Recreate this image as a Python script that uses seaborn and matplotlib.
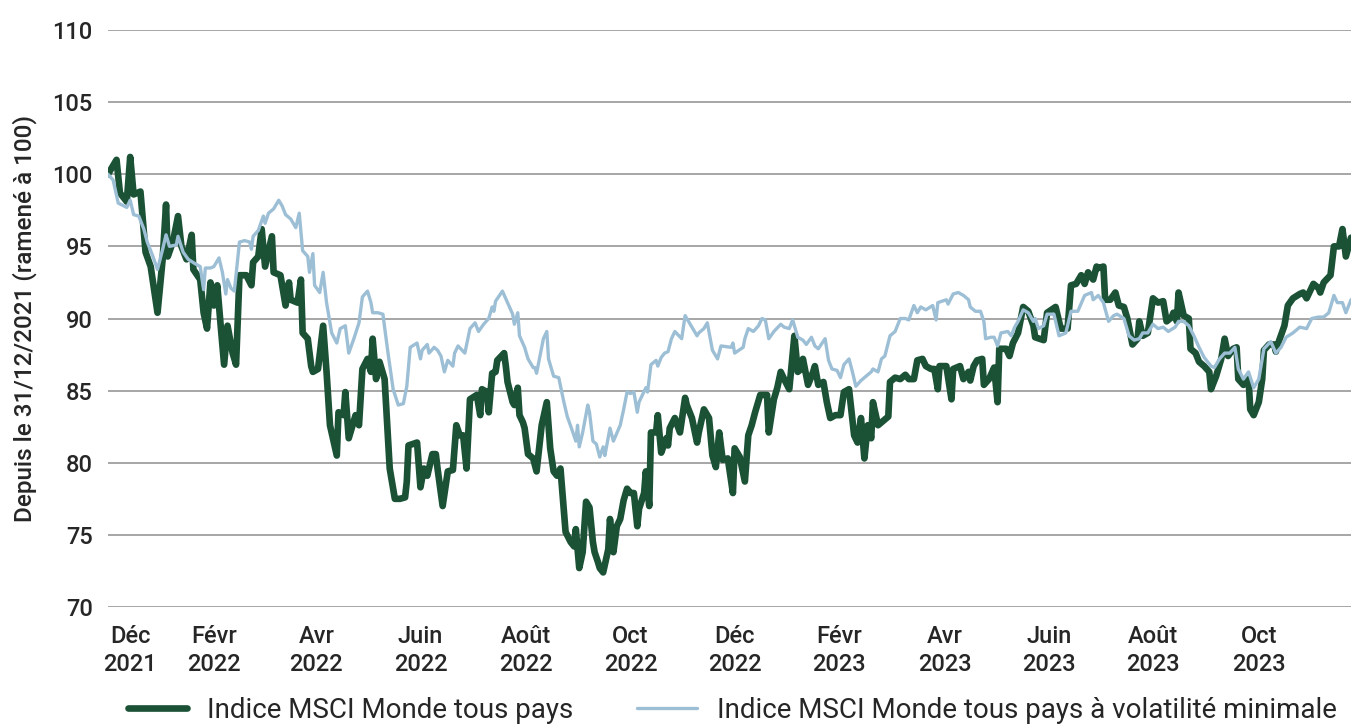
import pandas as pd
import numpy as np
import matplotlib
matplotlib.use('Agg')
import matplotlib.pyplot as plt
import seaborn as sns

# jours depuis le 31/12/2021 et valeurs (base 100)
jours_acwi = [0, 5, 7, 11, 13, 15, 19, 22, 25, 29,
              32, 34, 35, 38, 41, 43, 46, 49, 50, 54,
              56, 58, 60, 62, 64, 66, 68, 70, 73, 75,
              77, 81, 84, 85, 88, 90, 92, 96, 97, 101,
              104, 106, 107, 111, 113, 114, 117, 119, 120, 123,
              126, 128, 130, 134, 135, 138, 139, 141, 145, 147,
              149, 152, 154, 155, 157, 159, 162, 165, 168, 171,
              174, 175, 176, 181, 183, 185, 187, 190, 192, 193,
              196, 199, 202, 204, 206, 208, 210, 212, 216, 218,
              219, 222, 223, 225, 227, 228, 232, 233, 234, 237,
              238, 240, 241, 243, 244, 246, 249, 251, 254, 257,
              259, 261, 263, 265, 268, 271, 273, 274, 276, 278,
              280, 282, 284, 285, 287, 288, 290, 293, 294, 296,
              298, 300, 302, 304, 306, 308, 310, 311, 314, 315,
              317, 318, 321, 322, 324, 327, 328, 329, 332, 335,
              338, 339, 342, 345, 346, 349, 352, 354, 356, 358,
              360, 363, 366, 367, 370, 373, 375, 377, 379, 382,
              386, 387, 390, 392, 394, 396, 399, 400, 402, 404,
              406, 407, 410, 413, 414, 416, 419, 421, 423, 426,
              429, 431, 434, 437, 439, 441, 443, 445, 447, 448,
              451, 454, 457, 458, 461, 464, 467, 469, 472, 474,
              477, 479, 482, 484, 486, 487, 491, 494, 495, 499,
              501, 504, 505, 507, 509, 512, 513, 516, 519, 521,
              522, 526, 528, 530, 533, 536, 539, 542, 543, 548,
              550, 555, 558, 562, 564, 567, 570, 572, 574, 577,
              579, 580, 583, 584, 587, 590, 592, 595, 597, 600,
              603, 604, 606, 609, 612, 615, 618, 620, 623, 624,
              626, 627, 630, 633, 634, 637, 639, 642, 645, 646,
              649, 652, 654, 656, 659, 661, 662, 665, 668, 669,
              671, 674, 676, 677, 680, 683, 684, 686, 689, 691,
              694, 698, 700, 702, 706, 709, 710, 712, 716, 718,
              721, 723, 725, 728]
acwi = [100.0, 101.0, 98.7, 98.1, 101.2, 98.6, 98.8, 94.6, 93.6, 90.4,
        94.1, 97.9, 94.3, 95.3, 97.1, 95.0, 94.1, 95.8, 93.4, 92.7,
        90.4, 89.3, 92.5, 90.9, 92.3, 89.5, 86.8, 89.5, 87.6, 86.8,
        93.0, 93.0, 92.3, 93.9, 94.3, 96.2, 93.6, 95.7, 93.2, 93.0,
        90.9, 92.5, 91.3, 91.1, 92.7, 89.0, 88.6, 86.7, 86.3, 86.5,
        89.5, 86.3, 82.6, 80.5, 83.5, 83.3, 84.9, 81.7, 83.3, 82.6,
        86.5, 87.2, 86.3, 88.6, 85.8, 87.0, 85.8, 79.6, 77.5, 77.5,
        77.6, 78.7, 81.2, 81.4, 78.3, 79.6, 79.1, 80.6, 80.6, 79.6,
        77.0, 79.4, 79.5, 82.6, 81.9, 81.9, 79.6, 84.4, 84.7, 83.3,
        85.1, 84.9, 83.5, 86.2, 86.3, 87.1, 87.6, 86.7, 85.6, 84.2,
        84.0, 85.2, 83.3, 82.8, 82.4, 80.6, 80.3, 79.4, 82.6, 84.2,
        81.0, 79.4, 79.1, 79.6, 75.2, 74.5, 74.2, 75.4, 72.7, 73.8,
        77.3, 76.9, 74.5, 73.8, 73.1, 72.7, 72.4, 74.0, 76.1, 73.8,
        75.6, 76.1, 77.4, 78.2, 77.9, 77.9, 75.6, 76.8, 77.9, 79.4,
        77.0, 82.1, 82.1, 83.3, 80.7, 81.7, 81.2, 82.4, 83.1, 82.1,
        84.5, 84.0, 83.1, 81.4, 82.1, 83.7, 83.1, 80.5, 79.7, 82.1,
        80.2, 80.3, 77.9, 81.0, 80.4, 78.7, 81.9, 82.6, 83.5, 84.7,
        84.7, 82.1, 84.4, 85.2, 86.3, 85.8, 85.1, 86.3, 88.8, 86.3,
        86.5, 87.2, 85.4, 86.3, 86.7, 85.4, 85.6, 84.2, 83.1, 83.3,
        83.3, 84.9, 85.1, 81.9, 81.4, 83.1, 80.3, 82.6, 81.7, 84.2,
        82.6, 82.9, 83.2, 85.6, 85.9, 85.8, 86.1, 85.8, 85.8, 87.1,
        87.2, 86.7, 86.5, 86.5, 85.1, 86.7, 86.7, 84.4, 86.5, 86.7,
        85.8, 86.3, 85.7, 86.7, 87.1, 87.2, 85.4, 85.8, 86.6, 84.2,
        87.9, 87.9, 87.4, 88.3, 89.0, 90.8, 90.5, 89.5, 88.7, 88.5,
        90.4, 90.8, 89.3, 89.3, 92.3, 92.4, 93.0, 92.4, 93.2, 92.7,
        93.6, 93.5, 93.6, 91.3, 91.3, 91.8, 90.9, 90.8, 90.0, 88.2,
        88.6, 89.8, 88.8, 89.0, 91.4, 91.1, 91.2, 89.8, 90.1, 90.4,
        89.8, 91.8, 90.2, 90.0, 87.9, 87.6, 87.0, 86.7, 86.3, 85.1,
        86.0, 87.2, 88.6, 87.4, 87.9, 88.0, 85.8, 85.4, 85.8, 83.7,
        83.3, 84.2, 85.8, 87.8, 88.2, 88.2, 87.7, 88.5, 89.5, 90.9,
        91.4, 91.7, 91.8, 91.4, 92.4, 92.1, 91.8, 92.5, 93.0, 95.0,
        95.0, 96.2, 94.3, 95.6]

jours_minvol = [0, 3, 6, 11, 13, 15, 18, 21, 23, 26,
                29, 32, 34, 36, 40, 41, 44, 47, 51, 54,
                56, 57, 60, 62, 65, 67, 69, 70, 72, 74,
                77, 80, 83, 84, 85, 88, 91, 92, 94, 97,
                100, 102, 104, 107, 110, 112, 114, 117, 118, 120,
                121, 124, 126, 128, 131, 134, 136, 139, 141, 144,
                147, 149, 152, 154, 155, 158, 161, 164, 167, 170,
                173, 175, 177, 181, 183, 184, 187, 188, 191, 193,
                195, 197, 199, 202, 203, 205, 209, 212, 215, 217,
                220, 223, 225, 226, 227, 231, 234, 237, 238, 240,
                241, 244, 246, 249, 250, 251, 255, 257, 258, 261,
                264, 267, 269, 272, 274, 275, 276, 278, 281, 282,
                284, 286, 288, 290, 291, 294, 296, 300, 302, 304,
                306, 308, 310, 311, 315, 316, 318, 321, 322, 324,
                326, 328, 330, 332, 336, 338, 341, 345, 346, 349,
                351, 354, 357, 359, 365, 366, 367, 372, 373, 375,
                378, 381, 383, 385, 387, 390, 394, 396, 399, 401,
                404, 407, 409, 412, 414, 416, 420, 422, 424, 427,
                429, 431, 434, 436, 438, 441, 444, 447, 448, 451,
                453, 455, 458, 461, 464, 467, 469, 472, 474, 476,
                479, 483, 485, 486, 491, 492, 495, 498, 501, 504,
                505, 508, 511, 513, 514, 517, 519, 521, 523, 527,
                529, 531, 533, 536, 539, 542, 543, 545, 548, 550,
                554, 557, 561, 564, 568, 572, 576, 577, 580, 583,
                586, 589, 591, 595, 598, 601, 604, 606, 609, 612,
                615, 618, 621, 625, 627, 630, 633, 636, 639, 642,
                646, 648, 651, 654, 657, 660, 662, 665, 668, 671,
                674, 677, 681, 684, 687, 690, 694, 698, 702, 705,
                709, 712, 715, 718, 720, 723, 725, 728]
minvol = [100.0, 99.6, 98.0, 97.7, 98.2, 97.2, 97.1, 96.2, 95.3, 94.4,
          93.4, 94.8, 95.8, 95.0, 95.1, 95.7, 94.6, 94.1, 93.8, 93.6,
          92.0, 93.5, 93.5, 93.6, 94.2, 93.2, 91.7, 92.7, 92.1, 91.9,
          95.3, 95.4, 95.3, 94.8, 95.7, 96.1, 97.1, 96.6, 97.3, 97.6,
          98.2, 97.8, 97.2, 96.9, 96.3, 97.3, 94.7, 94.3, 93.2, 94.5,
          92.3, 91.8, 93.2, 91.1, 89.0, 88.3, 89.3, 89.5, 87.6, 88.6,
          89.7, 91.5, 91.9, 91.1, 90.4, 90.4, 90.3, 87.6, 85.1, 84.0,
          84.1, 85.3, 88.0, 88.3, 87.2, 87.8, 88.2, 87.6, 88.0, 87.8,
          87.4, 86.3, 87.1, 86.7, 87.6, 88.1, 87.6, 89.3, 89.7, 89.1,
          89.6, 90.0, 90.8, 90.5, 91.2, 91.9, 91.1, 90.3, 89.6, 90.4,
          88.8, 88.0, 87.2, 86.6, 86.6, 86.2, 88.6, 89.1, 87.2, 86.0,
          85.9, 84.2, 83.2, 82.2, 81.5, 82.6, 81.1, 82.1, 84.0, 83.5,
          81.5, 81.3, 80.4, 81.1, 80.5, 82.4, 81.5, 82.6, 83.7, 84.9,
          84.8, 84.9, 83.5, 84.2, 85.2, 84.9, 86.8, 87.1, 86.7, 87.3,
          87.6, 87.7, 88.6, 89.1, 88.6, 90.2, 89.6, 88.8, 89.0, 89.3,
          89.7, 87.8, 87.2, 88.1, 88.0, 88.3, 87.6, 88.0, 88.6, 89.3,
          89.1, 89.5, 90.0, 89.9, 88.6, 89.1, 89.6, 89.4, 89.3, 89.9,
          88.7, 88.5, 88.2, 88.7, 88.1, 87.9, 88.6, 87.1, 86.5, 86.4,
          85.9, 86.8, 87.2, 86.3, 85.3, 85.7, 86.0, 86.3, 86.5, 86.3,
          87.2, 87.4, 88.8, 89.1, 90.0, 90.0, 89.9, 90.9, 90.4, 90.8,
          90.6, 90.9, 89.9, 91.1, 91.3, 91.0, 91.7, 91.8, 91.6, 91.3,
          90.8, 90.5, 90.5, 89.8, 88.6, 88.7, 88.7, 88.1, 89.0, 89.1,
          88.8, 89.4, 89.8, 90.6, 90.4, 89.8, 90.0, 89.3, 89.5, 90.3,
          90.3, 88.8, 89.0, 90.5, 90.5, 91.6, 91.8, 91.3, 91.6, 91.1,
          89.8, 90.2, 90.3, 90.0, 88.8, 88.5, 88.6, 89.0, 89.0, 89.6,
          89.3, 89.4, 89.1, 89.4, 89.8, 89.8, 89.5, 88.8, 88.0, 87.3,
          86.7, 86.6, 87.2, 87.6, 87.6, 88.0, 86.5, 85.8, 86.3, 85.2,
          85.8, 87.9, 88.4, 87.6, 88.0, 88.7, 89.0, 89.4, 89.3, 90.0,
          90.1, 90.1, 90.4, 91.6, 91.1, 91.1, 90.4, 91.3]

mois = ['Déc\n2021', 'Févr\n2022', 'Avr\n2022', 'Juin\n2022', 'Août\n2022', 'Oct\n2022',
        'Déc\n2022', 'Févr\n2023', 'Avr\n2023', 'Juin\n2023', 'Août\n2023', 'Oct\n2023']
pos_mois = [13, 62, 122, 183, 245, 306, 367, 428, 490, 551, 612, 674]

vert = '#1b5236'
bleu = '#9dbfd6'
texte = '#262626'

sns.set_style('white')
plt.rcParams['font.family'] = ['Roboto', 'DejaVu Sans']

fig = plt.figure(figsize=(13.51, 7.28), dpi=100)
ax = fig.add_axes([108/1351, 1 - 607/728, 1 - 108/1351, (607 - 30)/728])

df_acwi = pd.DataFrame({'jour': jours_acwi, 'valeur': acwi})
df_minvol = pd.DataFrame({'jour': jours_minvol, 'valeur': minvol})

sns.lineplot(data=df_acwi, x='jour', y='valeur', ax=ax, color=vert, linewidth=4.8,
             estimator=None, label='Indice MSCI Monde tous pays', zorder=3)
sns.lineplot(data=df_minvol, x='jour', y='valeur', ax=ax, color=bleu, linewidth=2.4,
             estimator=None, label='Indice MSCI Monde tous pays à volatilité minimale', zorder=4)

ax.set_xlim(0, 728)
ax.set_ylim(70, 110)
ax.set_yticks(range(70, 111, 5))
ax.set_yticklabels([str(v) for v in range(70, 111, 5)], fontsize=17, color=texte,
                   fontweight='medium')
ax.set_xticks(pos_mois)
ax.set_xticklabels(mois, fontsize=17, color=texte, fontweight='medium', linespacing=1.25)
ax.tick_params(axis='both', length=0)
ax.tick_params(axis='y', pad=11)
ax.tick_params(axis='x', pad=13)
ax.grid(axis='y', color='#a6a6a6', linewidth=1.4)
ax.grid(axis='x', visible=False)
ax.set_axisbelow(True)
for key, spine in ax.spines.items():
    spine.set_visible(False)

ax.set_xlabel('')
ax.set_ylabel('Depuis le 31/12/2021 (ramené à 100)', fontsize=17.5, color=texte,
              fontweight='medium', labelpad=11)

ax.get_legend().remove()
h, l = ax.get_legend_handles_labels()
fig.legend(h, l, loc='center', bbox_to_anchor=(0.542, 0.024), ncol=2, frameon=False,
           fontsize=20, handlelength=2.15, handletextpad=0.72, columnspacing=2.3,
           labelcolor=texte, borderpad=0.1)

fig.savefig('out.png', dpi=100)
